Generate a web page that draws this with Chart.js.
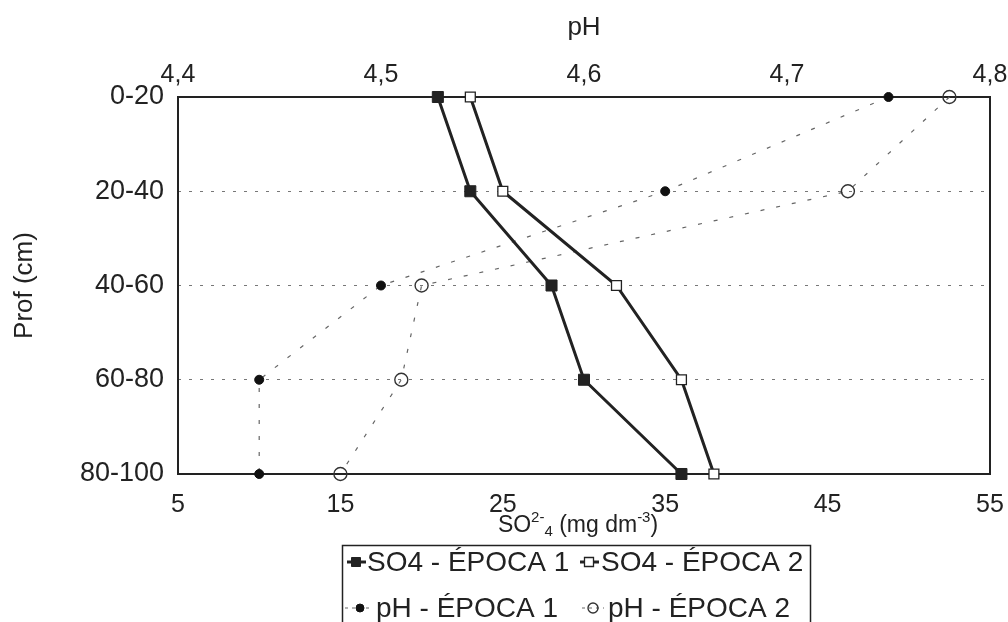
<!DOCTYPE html>
<html>
<head>
<meta charset="utf-8">
<script src="https://cdn.jsdelivr.net/npm/chart.js@4/dist/chart.umd.min.js"></script>
<style>
html,body{margin:0;padding:0;background:#fff;}
#wrap{width:1008px;height:622px;position:relative;}
</style>
</head>
<body>
<div id="wrap"><canvas id="c" width="1008" height="622"></canvas></div>
<script>
// ---- data ----
const depthLabels = ['0-20', '20-40', '40-60', '60-80', '80-100'];
const so4Epoca1 = [21, 23, 28, 30, 36];
const so4Epoca2 = [23, 25, 32, 36, 38];
const phEpoca1 = [4.75, 4.64, 4.50, 4.44, 4.44];
const phEpoca2 = [4.78, 4.73, 4.52, 4.51, 4.48];
const so4Ticks = [5, 15, 25, 35, 45, 55];
const phTicks = [4.4, 4.5, 4.6, 4.7, 4.8];
const seriesLabels = ['SO4 - ÉPOCA 1', 'SO4 - ÉPOCA 2', 'pH - ÉPOCA 1', 'pH - ÉPOCA 2'];

const FONT = "'Liberation Sans', Arial, Helvetica, sans-serif";
const INK = '#222';

function pts(vals) { return depthLabels.map((d, i) => ({ x: vals[i], y: d })); }

const framePlugin = {
  id: 'frame',
  beforeDatasetsDraw(chart) {
    const { ctx, chartArea: a } = chart;
    ctx.save();
    ctx.strokeStyle = INK;
    ctx.lineWidth = 2;
    ctx.strokeRect(a.left, a.top, a.right - a.left, a.bottom - a.top);
    ctx.restore();
  }
};

const titlesPlugin = {
  id: 'titles',
  afterDraw(chart) {
    const { ctx, chartArea: a } = chart;
    const cx = (a.left + a.right) / 2;
    ctx.save();
    ctx.fillStyle = INK;
    ctx.font = '26px ' + FONT;
    ctx.textAlign = 'center';
    ctx.textBaseline = 'alphabetic';
    ctx.fillText('pH', cx, 35);
    ctx.save();
    ctx.translate(32, (a.top + a.bottom) / 2);
    ctx.rotate(-Math.PI / 2);
    ctx.font = '26px ' + FONT;
    ctx.fillText('Prof (cm)', 0, 0);
    ctx.restore();
    const big = '23px ' + FONT, small = '15px ' + FONT;
    const parts = [
      { t: 'SO', f: big, dy: 0 },
      { t: '2-', f: small, dy: -10 },
      { t: '4', f: small, dy: 4 },
      { t: ' (mg dm', f: big, dy: 0 },
      { t: '-3', f: small, dy: -10 },
      { t: ')', f: big, dy: 0 }
    ];
    let total = 0;
    parts.forEach(p => { ctx.font = p.f; p.w = ctx.measureText(p.t).width; total += p.w; });
    let x = cx - 6 - total / 2;
    const base = 532;
    ctx.textAlign = 'left';
    parts.forEach(p => { ctx.font = p.f; ctx.fillText(p.t, x, base + p.dy); x += p.w; });
    ctx.restore();
  }
};

const legendPlugin = {
  id: 'boxLegend',
  afterDraw(chart) {
    const { ctx } = chart;
    ctx.save();
    ctx.strokeStyle = INK;
    ctx.lineWidth = 1.5;
    ctx.strokeRect(342.5, 545.5, 468, 120);
    const slots = [
      { x0: 347, x1: 366, mx: 356, tx: 367, y: 562 },
      { x0: 580, x1: 599, mx: 589, tx: 601, y: 562 },
      { x0: 345, x1: 372, mx: 360, tx: 376, y: 608 },
      { x0: 582, x1: 604, mx: 593, tx: 608, y: 608 }
    ];
    chart.data.datasets.forEach((ds, i) => {
      const s = slots[i];
      ctx.save();
      ctx.strokeStyle = ds.borderColor;
      ctx.lineWidth = ds.borderWidth;
      ctx.setLineDash(ds.borderDash ? [3, 4] : []);
      ctx.beginPath();
      ctx.moveTo(s.x0, s.y);
      ctx.lineTo(s.x1, s.y);
      ctx.stroke();
      ctx.setLineDash([]);
      ctx.lineWidth = ds.pointBorderWidth;
      ctx.strokeStyle = ds.pointBorderColor;
      ctx.fillStyle = ds.pointBackgroundColor;
      ctx.beginPath();
      if (ds.pointStyle === 'rect') {
        const h = 4.5;
        ctx.rect(s.mx - h, s.y - h, 2 * h, 2 * h);
      } else {
        ctx.arc(s.mx, s.y, ds.pointRadius > 5 ? 5 : 4, 0, Math.PI * 2);
      }
      if (ds.pointBackgroundColor !== 'rgba(0,0,0,0)') ctx.fill();
      ctx.stroke();
      ctx.restore();
      ctx.fillStyle = INK;
      ctx.font = '28px ' + FONT;
      ctx.textAlign = 'left';
      ctx.textBaseline = 'middle';
      ctx.fillText(ds.label, s.tx, s.y + 1);
    });
    ctx.restore();
  }
};

function noSidePad(s, h) { s.height = h; s.paddingLeft = 0; s.paddingRight = 0; }

new Chart(document.getElementById('c'), {
  type: 'line',
  data: {
    datasets: [
      {
        label: seriesLabels[0], data: pts(so4Epoca1), xAxisID: 'x', yAxisID: 'y',
        borderColor: INK, borderWidth: 3, pointStyle: 'rect', pointRadius: 7.8,
        pointBackgroundColor: INK, pointBorderColor: INK, pointBorderWidth: 1,
        tension: 0, fill: false, clip: false
      },
      {
        label: seriesLabels[1], data: pts(so4Epoca2), xAxisID: 'x', yAxisID: 'y',
        borderColor: INK, borderWidth: 3, pointStyle: 'rect', pointRadius: 7,
        pointBackgroundColor: '#fff', pointBorderColor: INK, pointBorderWidth: 1.3,
        tension: 0, fill: false, clip: false
      },
      {
        label: seriesLabels[2], data: pts(phEpoca1), xAxisID: 'x2', yAxisID: 'y',
        borderColor: '#666', borderWidth: 1.2, borderDash: [4, 12], pointStyle: 'circle', pointRadius: 4.5,
        pointBackgroundColor: '#111', pointBorderColor: '#111', pointBorderWidth: 1,
        tension: 0, fill: false, clip: false
      },
      {
        label: seriesLabels[3], data: pts(phEpoca2), xAxisID: 'x2', yAxisID: 'y',
        borderColor: '#666', borderWidth: 1.2, borderDash: [4, 12], pointStyle: 'circle', pointRadius: 6.5,
        pointBackgroundColor: 'rgba(0,0,0,0)', pointBorderColor: '#333', pointBorderWidth: 1.4,
        tension: 0, fill: false, clip: false
      }
    ]
  },
  options: {
    responsive: false,
    animation: false,
    devicePixelRatio: 1,
    layout: { padding: { left: 0, right: 18, top: 0, bottom: 0 } },
    plugins: { legend: { display: false }, tooltip: { enabled: false } },
    scales: {
      x: {
        type: 'linear', position: 'bottom', min: 5, max: 55,
        afterBuildTicks: s => { s.ticks = so4Ticks.map(v => ({ value: v })); },
        grid: { display: false, drawTicks: false },
        border: { display: false },
        ticks: { color: INK, font: { family: FONT, size: 25 }, padding: 16, maxRotation: 0, autoSkip: false },
        afterFit: s => noSidePad(s, 148)
      },
      x2: {
        type: 'linear', position: 'top', min: 4.4, max: 4.8,
        afterBuildTicks: s => { s.ticks = phTicks.map(v => ({ value: v })); },
        grid: { display: false, drawTicks: false },
        border: { display: false },
        ticks: {
          color: INK, font: { family: FONT, size: 25 }, padding: 7, maxRotation: 0, autoSkip: false,
          callback: v => Number(v).toFixed(1).replace('.', ',')
        },
        afterFit: s => noSidePad(s, 97)
      },
      y: {
        type: 'category', labels: depthLabels, offset: false,
        grid: {
          drawTicks: false, lineWidth: 1,
          color: c => (c.index === 0 || c.index === depthLabels.length - 1) ? 'rgba(0,0,0,0)' : '#777'
        },
        border: { display: false, dash: [3, 8] },
        ticks: { color: INK, font: { family: FONT, size: 27 }, padding: 14 },
        afterFit: s => { s.width = 178; s.paddingTop = 0; s.paddingBottom = 0; }
      }
    }
  },
  plugins: [framePlugin, titlesPlugin, legendPlugin]
});
</script>
</body>
</html>
